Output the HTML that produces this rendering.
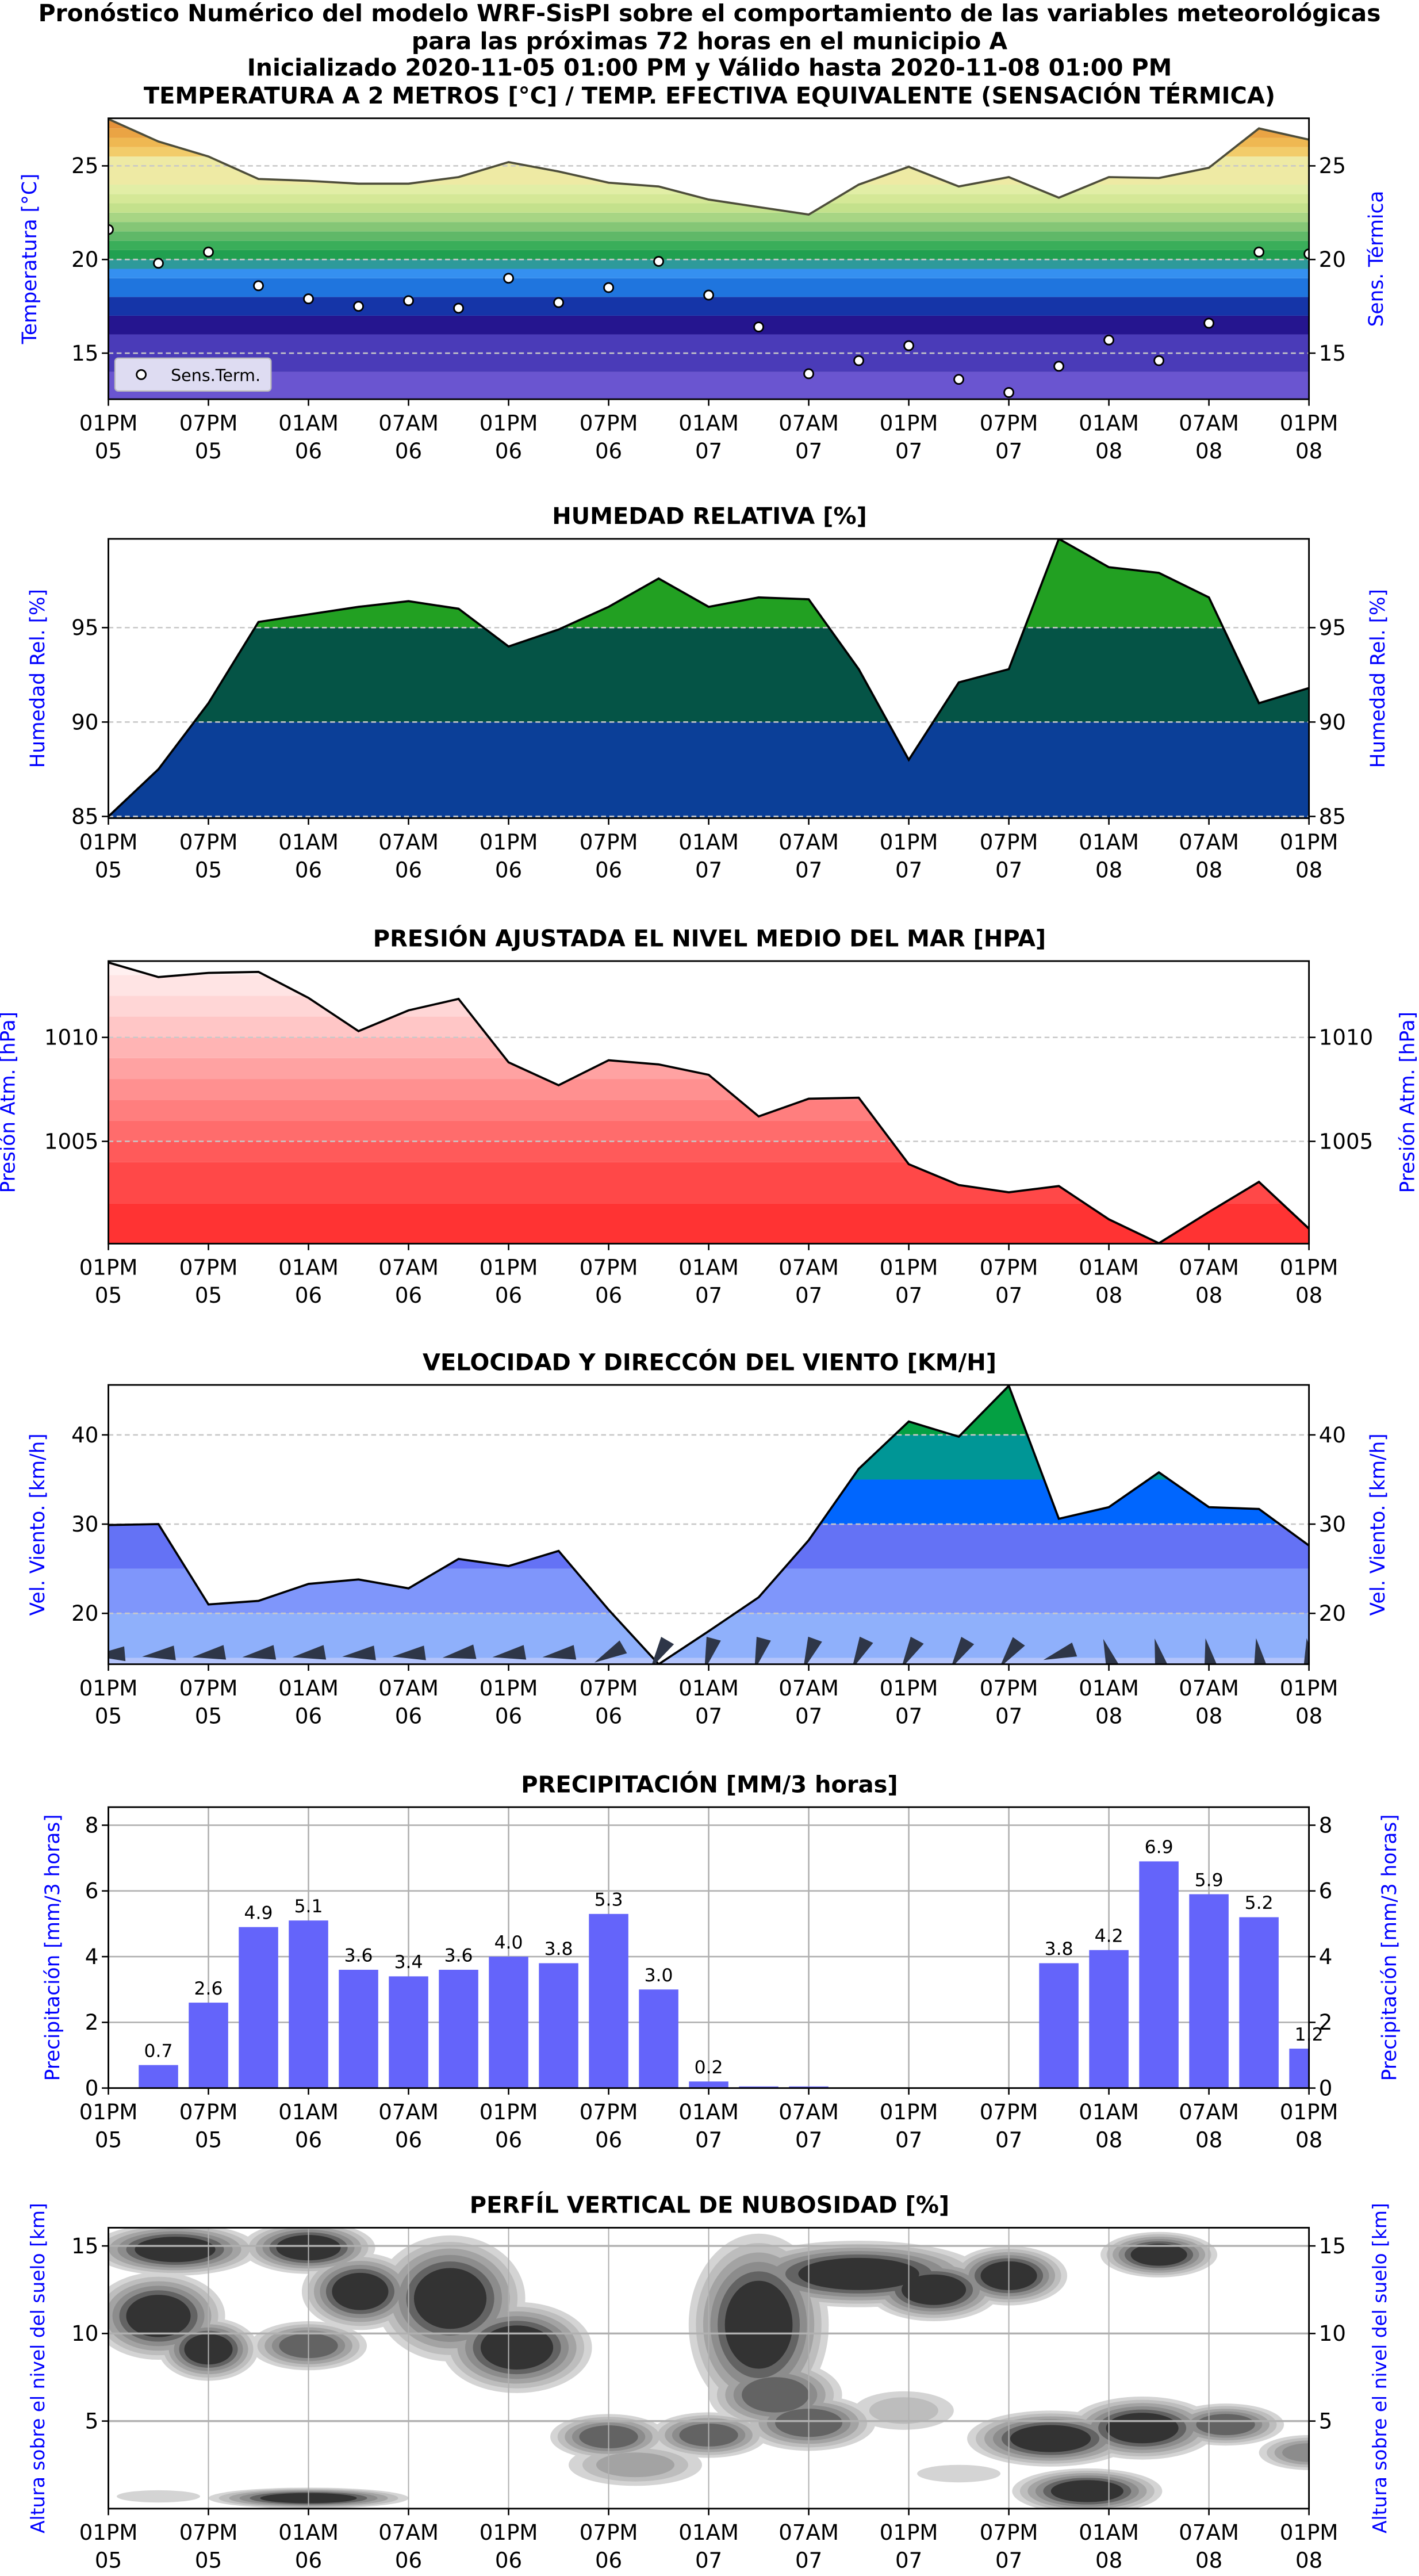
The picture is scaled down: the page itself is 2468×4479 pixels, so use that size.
<!DOCTYPE html>
<html><head><meta charset="utf-8">
<style>
html,body{margin:0;padding:0;background:#fff;}
svg{display:block;}
text{font-family:"DejaVu Sans","Liberation Sans",sans-serif;}
</style></head>
<body>
<svg id="chart" xmlns="http://www.w3.org/2000/svg" width="2468" height="4479" viewBox="0 0 864 1568">
<rect width="864" height="1568" fill="#fff"/>
<text x="432" y="13" text-anchor="middle" font-size="14.3" font-weight="bold">Pronóstico Numérico del modelo WRF-SisPI sobre el comportamiento de las variables meteorológicas</text>
<text x="432" y="30" text-anchor="middle" font-size="14.3" font-weight="bold">para las próximas 72 horas en el municipio A</text>
<text x="432" y="46" text-anchor="middle" font-size="14.3" font-weight="bold">Inicializado 2020-11-05 01:00 PM y Válido hasta 2020-11-08 01:00 PM</text>
</svg>
<script>
// ---------- data ----------
const hours = [0,3,6,9,12,15,18,21,24,27,30,33,36,39,42,45,48,51,54,57,60,63,66,69,72];
const xTickLabelsTop = ["01PM","07PM","01AM","07AM","01PM","07PM","01AM","07AM","01PM","07PM","01AM","07AM","01PM"];
const xTickLabelsBottom = ["05","05","06","06","06","06","07","07","07","07","08","08","08"];
const temperature = [27.5,26.3,25.5,24.3,24.2,24.05,24.05,24.4,25.2,24.7,24.1,23.9,23.2,22.8,22.4,24.0,24.95,23.9,24.4,23.3,24.4,24.35,24.9,27.0,26.4];
const sensTerm = [21.6,19.8,20.4,18.6,17.9,17.5,17.8,17.4,19.0,17.7,18.5,19.9,18.1,16.4,13.9,14.6,15.4,13.6,12.9,14.3,15.7,14.6,16.6,20.4,20.3];
const humidity = [85.0,87.5,91.0,95.3,95.7,96.1,96.4,96.0,94.0,94.9,96.1,97.6,96.1,96.6,96.5,92.8,88.0,92.1,92.8,99.7,98.2,97.9,96.6,91.0,91.8];
const pressure = [1013.6,1012.9,1013.1,1013.15,1011.9,1010.3,1011.3,1011.85,1008.8,1007.7,1008.9,1008.7,1008.2,1006.2,1007.05,1007.1,1003.9,1002.9,1002.55,1002.85,1001.25,1000.1,1001.6,1003.05,1000.8];
const windSpeed = [29.9,30.0,21.0,21.4,23.3,23.8,22.8,26.1,25.3,27.0,20.4,14.3,18.0,21.8,28.2,36.2,41.5,39.8,45.5,30.6,31.9,35.8,31.9,31.7,27.6];
const windDir = [175,172,170,170,170,172,172,168,170,170,150,120,105,105,110,115,118,120,125,160,250,255,258,260,262];
const precipHours = [3,6,9,12,15,18,21,24,27,30,33,36,39,42,45,48,51,54,57,60,63,66,69,72];
const precip = [0.7,2.6,4.9,5.1,3.6,3.4,3.6,4.0,3.8,5.3,3.0,0.2,0.05,0.05,0,0,0,0.02,3.8,4.2,6.9,5.9,5.2,1.2];
// cloud blobs: [hour, height km, radius hours, radius km, level]
const cloudHour = [4,3,6,12,12,15.1,20.5,24.5,39,40,45,49.5,54,63,56.5,62,67,72,30,36,42,31.6,12,58.7,47.7,3,51];
const cloudHeight = [14.8,11,9.1,14.9,9.3,12.4,12,9.2,10.5,6.5,13.4,12.5,13.3,14.5,4.0,4.6,4.8,3.2,4.1,4.2,4.9,2.5,0.6,1.0,5.6,0.7,2.0];
const cloudRx = [5,4,3,4,3.5,3.5,4.5,4.5,4.2,4,7.5,4,3.5,3.5,5,4.5,3.5,3,3.5,3.5,4,4,6,4.5,3,2.5,2.5];
const cloudRy = [1.5,2.5,1.8,1.5,1.4,2.2,3.6,2.6,5.2,2,1.9,1.8,1.7,1.3,1.6,1.8,1.2,1.0,1.3,1.3,1.6,1.2,0.6,1.3,1.1,0.35,0.5];
const cloudLevel = [6,6,6,6,5,6,6,6,6,5,6,6,6,6,6,6,5,4,5,5,5,3,6,6,2,1,1];

// ---------- helpers ----------
const svg = document.getElementById('chart');
const NS = 'http://www.w3.org/2000/svg';
function mk(tag, attrs, parent){const e=document.createElementNS(NS,tag);for(const k in attrs)e.setAttribute(k,attrs[k]);(parent||svg).appendChild(e);return e;}
const X0=66, X1=797;
function xs(t){return X0+(t/72)*(X1-X0);}
function mkY(p){return v=>p.bot-(v-p.min)/(p.max-p.min)*(p.bot-p.top);}

const panels = [
 {key:'temp',top:72,bot:243,min:12.54,max:27.54,ticks:[15,20,25],title:'TEMPERATURA A 2 METROS [°C] / TEMP. EFECTIVA EQUIVALENTE (SENSACIÓN TÉRMICA)',lbl:'Temperatura [°C]',rlbl:'Sens. Térmica',grid:'dash',lx:22,rx:842},
 {key:'hum',top:328,bot:498,min:84.91,max:99.7,ticks:[85,90,95],title:'HUMEDAD RELATIVA [%]',lbl:'Humedad Rel. [%]',rlbl:'Humedad Rel. [%]',grid:'dash',lx:27,rx:843},
 {key:'pres',top:585,bot:757,min:1000.08,max:1013.67,ticks:[1005,1010],title:'PRESIÓN AJUSTADA EL NIVEL MEDIO DEL MAR [HPA]',lbl:'Presión Atm. [hPa]',rlbl:'Presión Atm. [hPa]',grid:'dash',lx:9,rx:861},
 {key:'wind',top:843,bot:1013,min:14.3,max:45.6,ticks:[20,30,40],title:'VELOCIDAD Y DIRECCÓN DEL VIENTO [KM/H]',lbl:'Vel. Viento. [km/h]',rlbl:'Vel. Viento. [km/h]',grid:'dash',lx:27,rx:843},
 {key:'prec',top:1100,bot:1271,min:0,max:8.55,ticks:[0,2,4,6,8],title:'PRECIPITACIÓN [MM/3 horas]',lbl:'Precipitación [mm/3 horas]',rlbl:'Precipitación [mm/3 horas]',grid:'solid',lx:36,rx:850},
 {key:'cloud',top:1356,bot:1527,min:0,max:16.04,ticks:[5,10,15],title:'PERFÍL VERTICAL DE NUBOSIDAD [%]',lbl:'Altura sobre el nivel del suelo [km]',rlbl:'Altura sobre el nivel del suelo [km]',grid:'solid',lx:27,rx:844}
];
const bandStyles = {
 temp:[[0,14,'#6a55d0'],[14,16,'#4a3bb8'],[16,17,'#25158f'],[17,18,'#1535a8'],[18,19,'#1f75de'],[19,19.5,'#3590f0'],[19.5,20,'#2e9a9a'],[20,20.5,'#21a050'],[20.5,21,'#3aae5a'],[21,21.5,'#60b868'],[21.5,22,'#85c676'],[22,22.5,'#a8d584'],[22.5,23,'#c4e18c'],[23,23.5,'#d5e897'],[23.5,24,'#e2eea6'],[24,25.5,'#eeeaa4'],[25.5,26,'#f2cc6a'],[26,26.5,'#efb852'],[26.5,27,'#eaa444'],[27,30,'#e5923a']],
 hum:[[80,90,'#0b3f98'],[90,95,'#055446'],[95,101,'#22a022']],
 pres:[[1000,1002,'#ff3333'],[1002,1004,'#ff4848'],[1004,1005,'#ff5a5a'],[1005,1006,'#ff6c6c'],[1006,1007,'#ff7e7e'],[1007,1008,'#ff9090'],[1008,1009,'#ffa2a2'],[1009,1010,'#ffb4b4'],[1010,1011,'#ffc6c6'],[1011,1012,'#ffd6d6'],[1012,1013,'#ffe4e4'],[1013,1015,'#fff0f0']],
 wind:[[0,15,'#b4c4fb'],[15,20,'#8fb0fb'],[20,25,'#7f96fb'],[25,30,'#6472f5'],[30,35,'#0066fe'],[35,40,'#009696'],[40,50,'#04a043']]
};
const cloudColors=['#d4d4d4','#bdbdbd','#a3a3a3','#8c8c8c','#636363','#333333'];

panels.forEach((p,pi)=>{
 const y=mkY(p);
 const g=mk('g',{});
 
 
 const tt=mk('text',{x:432,y:pi>0?p.top-9:63,'text-anchor':'middle','font-size':14,'font-weight':'bold'},g);
 
 
 tt.textContent=p.title;
 const clipId='clip-'+p.key;
 const cp=mk('clipPath',{id:clipId},g);
 mk('rect',{x:X0,y:p.top,width:X1-X0,height:p.bot-p.top},cp);
 const plot=mk('g',{'clip-path':'url(#'+clipId+')'},g);
 
 

 let series=null;
 if(p.key==='temp')series=temperature;
 if(p.key==='hum')series=humidity;
 if(p.key==='pres')series=pressure;
 if(p.key==='wind')series=windSpeed;
 if(series){
  const pts=hours.map((h,i)=>xs(h)+','+y(series[i])).join(' ');
  const aid='area-'+p.key;
  const acp=mk('clipPath',{id:aid},g);
  mk('polygon',{points:xs(0)+','+p.bot+' '+pts+' '+xs(72)+','+p.bot},acp);
  const bg=mk('g',{'clip-path':'url(#'+aid+')'},plot);
  
  
  bandStyles[p.key].forEach(b=>{
   const y1=y(b[1]),y0=y(b[0]);
   const r=mk('rect',{x:X0,y:y1,width:X1-X0,height:y0-y1,fill:b[2]},bg);
   
   
  });
 }
 if(p.grid==='dash'){
  p.ticks.forEach(v=>{
   const l=mk('line',{x1:X0,x2:X1,y1:y(v),y2:y(v),stroke:'#c8c8c8','stroke-width':0.9,'stroke-dasharray':'3,2'},plot);
   
   
  });
 }
 if(series){
  const pl=mk('polyline',{points:hours.map((h,i)=>xs(h)+','+y(series[i])).join(' '),fill:'none',stroke:p.key==='temp'?'#4d4d3a':'#000','stroke-width':1.3},plot);
  
  
 }
 if(p.key==='temp'){
  hours.forEach((h,i)=>{
   const c=mk('circle',{cx:xs(h),cy:y(sensTerm[i]),r:2.8,fill:'#fff',stroke:'#000','stroke-width':1},plot);
   
   
  });
  const lg=mk('g',{},g);
  
  
  mk('rect',{x:70,y:218,width:95,height:20,rx:2,fill:'#dedcf2',stroke:'#bbb','stroke-width':0.8},lg);
  mk('circle',{cx:86,cy:228,r:2.8,fill:'#fff',stroke:'#000','stroke-width':1},lg);
  const lt=mk('text',{x:104,y:232,'font-size':10},lg);
  
  
  lt.textContent='Sens.Term.';
 }
 if(p.key==='wind'){
  hours.forEach((h,i)=>{
   const a=windDir[i];
   const cx=xs(h), cy=p.bot-6;
   const poly=mk('polygon',{points:'-10,0 10,-4 10,5','fill':'#2e3648',transform:'translate('+cx+','+cy+') rotate('+(a-180)+')'},plot);
   
   
  });
 }
 if(p.key==='prec'){
  p.ticks.forEach(v=>{
   const l=mk('line',{x1:X0,x2:X1,y1:y(v),y2:y(v),stroke:'#b0b0b0','stroke-width':0.9},plot);
   
   
  });
  for(let i=0;i<13;i++){
   const l=mk('line',{x1:xs(i*6),x2:xs(i*6),y1:p.top,y2:p.bot,stroke:'#b0b0b0','stroke-width':0.9},plot);
   
   
  }
  const bw=24;
  precipHours.forEach((h,i)=>{
   const v=precip[i];
   const r=mk('rect',{x:xs(h)-bw/2,y:y(v),width:bw,height:p.bot-y(v),fill:'#6464fa'},plot);
   
   
  });
  precipHours.forEach((h,i)=>{
   const v=precip[i];
   if(v>=0.1){
    const t=mk('text',{x:xs(h),y:y(v)-5,'text-anchor':'middle','font-size':11},g);
    
    
    t.textContent=v.toFixed(1);
   }
  });
 }
 if(p.key==='cloud'){
  const cg=mk('g',{},plot);
  
  
  const pxPerH=(X1-X0)/72, pxPerKm=(p.bot-p.top)/(p.max-p.min);
  for(let k=0;k<6;k++){
   cloudHour.forEach((h,i)=>{
    const lev=cloudLevel[i];
    if(k>=lev)return;
    const s=1-(k/lev)*0.62;
    const e=mk('ellipse',{cx:xs(h),cy:y(cloudHeight[i]),rx:cloudRx[i]*pxPerH*s,ry:cloudRy[i]*pxPerKm*s,fill:cloudColors[k]},cg);
    
    
   });
  }
  p.ticks.forEach(v=>{
   const l=mk('line',{x1:X0,x2:X1,y1:y(v),y2:y(v),stroke:'#b0b0b0','stroke-width':1.2},plot);
   
   
  });
  for(let i=0;i<13;i++){
   const l=mk('line',{x1:xs(i*6),x2:xs(i*6),y1:p.top,y2:p.bot,stroke:'#b0b0b0','stroke-width':0.7},plot);
   
   
  }
 }
 const fr=mk('rect',{x:X0,y:p.top,width:X1-X0,height:p.bot-p.top,fill:'none',stroke:'#000','stroke-width':1},g);
 
 
 for(let i=0;i<13;i++){
  const tx=xs(i*6);
  mk('line',{x1:tx,x2:tx,y1:p.bot,y2:p.bot+4,stroke:'#000','stroke-width':0.9},g);
  const t1=mk('text',{x:tx,y:p.bot+19,'text-anchor':'middle','font-size':13},g);
  
  
  t1.textContent=xTickLabelsTop[i];
  const t2=mk('text',{x:tx,y:p.bot+36,'text-anchor':'middle','font-size':13},g);
  
  
  t2.textContent=xTickLabelsBottom[i];
 }
 p.ticks.forEach(v=>{
  const ty=y(v);
  mk('line',{x1:X0-4,x2:X0,y1:ty,y2:ty,stroke:'#000','stroke-width':0.9},g);
  mk('line',{x1:X1,x2:X1+4,y1:ty,y2:ty,stroke:'#000','stroke-width':0.9},g);
  const lt=mk('text',{x:X0-6,y:ty+4.5,'text-anchor':'end','font-size':13},g);
  
  
  lt.textContent=v;
  const rt=mk('text',{x:X1+6,y:ty+4.5,'text-anchor':'start','font-size':13},g);
  
  
  rt.textContent=v;
 });
 const cy=(p.top+p.bot)/2;
 const fs=p.key==='cloud'?11.5:12;
 const ll=mk('text',{x:0,y:0,'text-anchor':'middle','font-size':fs,fill:'#0000ff',transform:'translate('+p.lx+','+cy+') rotate(-90)'},g);
 
 
 ll.textContent=p.lbl;
 const rl=mk('text',{x:0,y:0,'text-anchor':'middle','font-size':fs,fill:'#0000ff',transform:'translate('+p.rx+','+cy+') rotate(-90)'},g);
 
 
 rl.textContent=p.rlbl;
});
</script>
</body></html>
